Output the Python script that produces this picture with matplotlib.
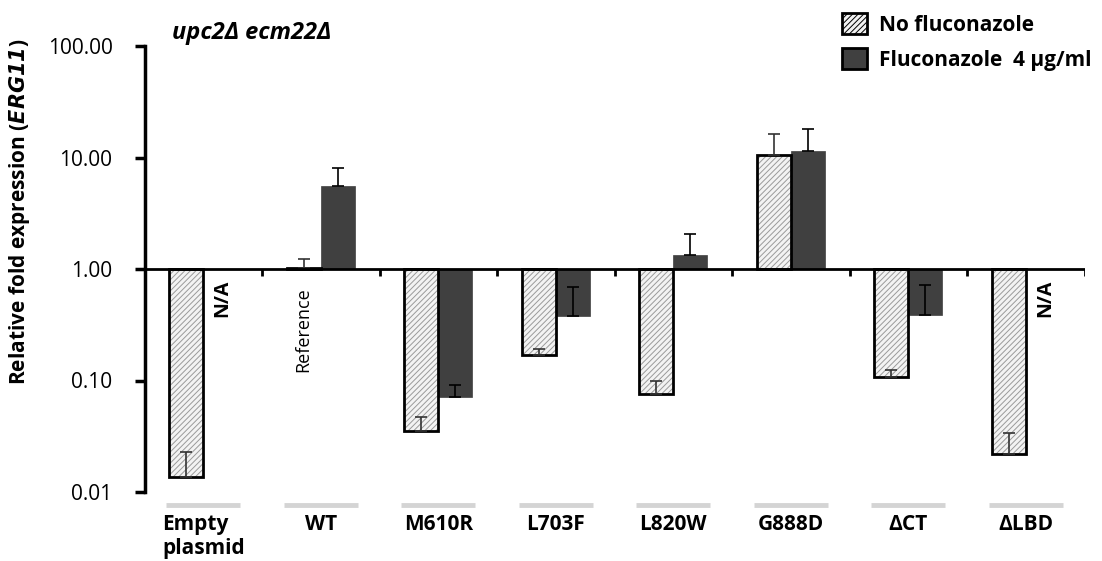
import numpy as np
import matplotlib
matplotlib.use("Agg")
import matplotlib.pyplot as plt
from matplotlib.patches import Patch
import matplotlib.transforms as mtransforms

plt.rcParams['font.family'] = ['Open Sans', 'DejaVu Sans']
plt.rcParams['mathtext.fontset'] = 'dejavusans'
plt.rcParams['hatch.linewidth'] = 0.7

# data
categories = ['Empty\nplasmid', 'WT', 'M610R', 'L703F', 'L820W', 'G888D', '\u0394CT', '\u0394LBD']
no_fluc = [0.0137, 1.03, 0.0352, 0.169, 0.0752, 10.5, 0.108, 0.0218]
no_fluc_sd = [0.009, 0.20, 0.012, 0.023, 0.024, 5.6, 0.015, 0.012]
fluc = [np.nan, 5.55, 0.071, 0.376, 1.34, 11.4, 0.387, np.nan]
fluc_sd = [np.nan, 2.45, 0.020, 0.31, 0.71, 6.7, 0.33, np.nan]
na_labels = ['N/A', '', '', '', '', '', '', 'N/A']
yticks = [0.01, 0.1, 1, 10, 100]

x = np.arange(len(categories))
w = 0.29
off = 0.145

fig = plt.figure(figsize=(11.02, 5.61), dpi=100)
ax = fig.add_axes([144.5/1102, 69/561, 940/1102, 446/561])
ax.set_yscale('log')
ax.set_ylim(0.01, 100)
ax.set_xlim(-0.5, len(categories) - 0.5)

nf = np.array(no_fluc)
fl = np.array(fluc)

# no fluconazole: hatched light bars, drawn twice so hatch is grey and edge is black
ax.bar(x - off, nf - 1, bottom=1, width=w, color='#f3f3f3', edgecolor='#9a9a9a',
       hatch='//////', linewidth=0, zorder=2)
ax.bar(x - off, nf - 1, bottom=1, width=w, facecolor='none', edgecolor='black',
       linewidth=2, zorder=3)
ax.errorbar(x - off, nf, yerr=[np.zeros(len(nf)), no_fluc_sd], fmt='none',
            ecolor='#333333', elinewidth=1.2, capsize=4, capthick=1.2, zorder=4)

# fluconazole: dark bars
ax.bar(x + off, fl - 1, bottom=1, width=w, color='#404040', edgecolor='#404040',
       linewidth=0.5, zorder=2)
ax.errorbar(x + off, fl, yerr=[np.zeros(len(fl)), fluc_sd], fmt='none',
            ecolor='black', elinewidth=1.2, capsize=4, capthick=1.2, zorder=4)

# baseline at 1 with small tick marks between groups
ax.axhline(1, color='black', lw=2, zorder=5)
bounds = np.arange(len(categories)) + 0.5
ax.vlines(bounds, 10 ** (-7 / 111.5), 1, color='black', lw=2, zorder=5)

# N/A and Reference notes
for i, lab in enumerate(na_labels):
    if lab:
        ax.annotate(lab, xy=(x[i] + off + 0.02, 1), xytext=(0, -8), textcoords='offset points',
                    rotation=90, ha='center', va='top', fontsize=14, fontweight='bold')
ax.annotate('Reference', xy=(x[1] - off, 1), xytext=(0, -13), textcoords='offset points',
            rotation=90, ha='center', va='top', fontsize=13)

# grey underline for each category
trans = mtransforms.blended_transform_factory(ax.transData, ax.transAxes)
for i in x:
    ax.plot([i - 0.315, i + 0.315], [-0.029, -0.029], color='#d4d4d4', lw=3.5,
            transform=trans, clip_on=False, solid_capstyle='butt')

# axes styling
for s in ['top', 'right', 'bottom']:
    ax.spines[s].set_visible(False)
ax.spines['left'].set_linewidth(2.5)
ax.set_yticks(yticks)
ax.set_yticklabels(['%.2f' % v for v in yticks])
ax.yaxis.set_minor_locator(matplotlib.ticker.NullLocator())
ax.tick_params(axis='y', direction='out', length=7, width=2.5, labelsize=15, pad=16)
ax.set_xticks(x)
ax.set_xticklabels(categories, fontweight='bold', fontsize=15, multialignment='left')
ax.tick_params(axis='x', length=0, pad=16)

ax.set_ylabel('Relative fold expression ($\\mathbfit{ERG11}$)', fontsize=15, fontweight='bold')
ax.yaxis.set_label_coords(-0.12, 0.628)

fig.text(172/1102, 1 - 33/561, 'upc2\u0394 ecm22\u0394', fontsize=17, fontweight='bold',
         fontstyle='italic', va='center', ha='left')

handles = [Patch(facecolor='#f3f3f3', edgecolor='black', hatch='//////', linewidth=2),
           Patch(facecolor='#404040', edgecolor='black', linewidth=2)]
fig.legend(handles, ['No fluconazole', 'Fluconazole  4 \u03bcg/ml'], loc='upper left',
           bbox_to_anchor=(834/1102, 1 - 5/561), frameon=False,
           prop={'weight': 'bold', 'size': 15}, handlelength=1.2, handleheight=1.15,
           handletextpad=0.55, labelspacing=0.6, borderaxespad=0)

fig.savefig('out.png', dpi=100)
plt.close()
